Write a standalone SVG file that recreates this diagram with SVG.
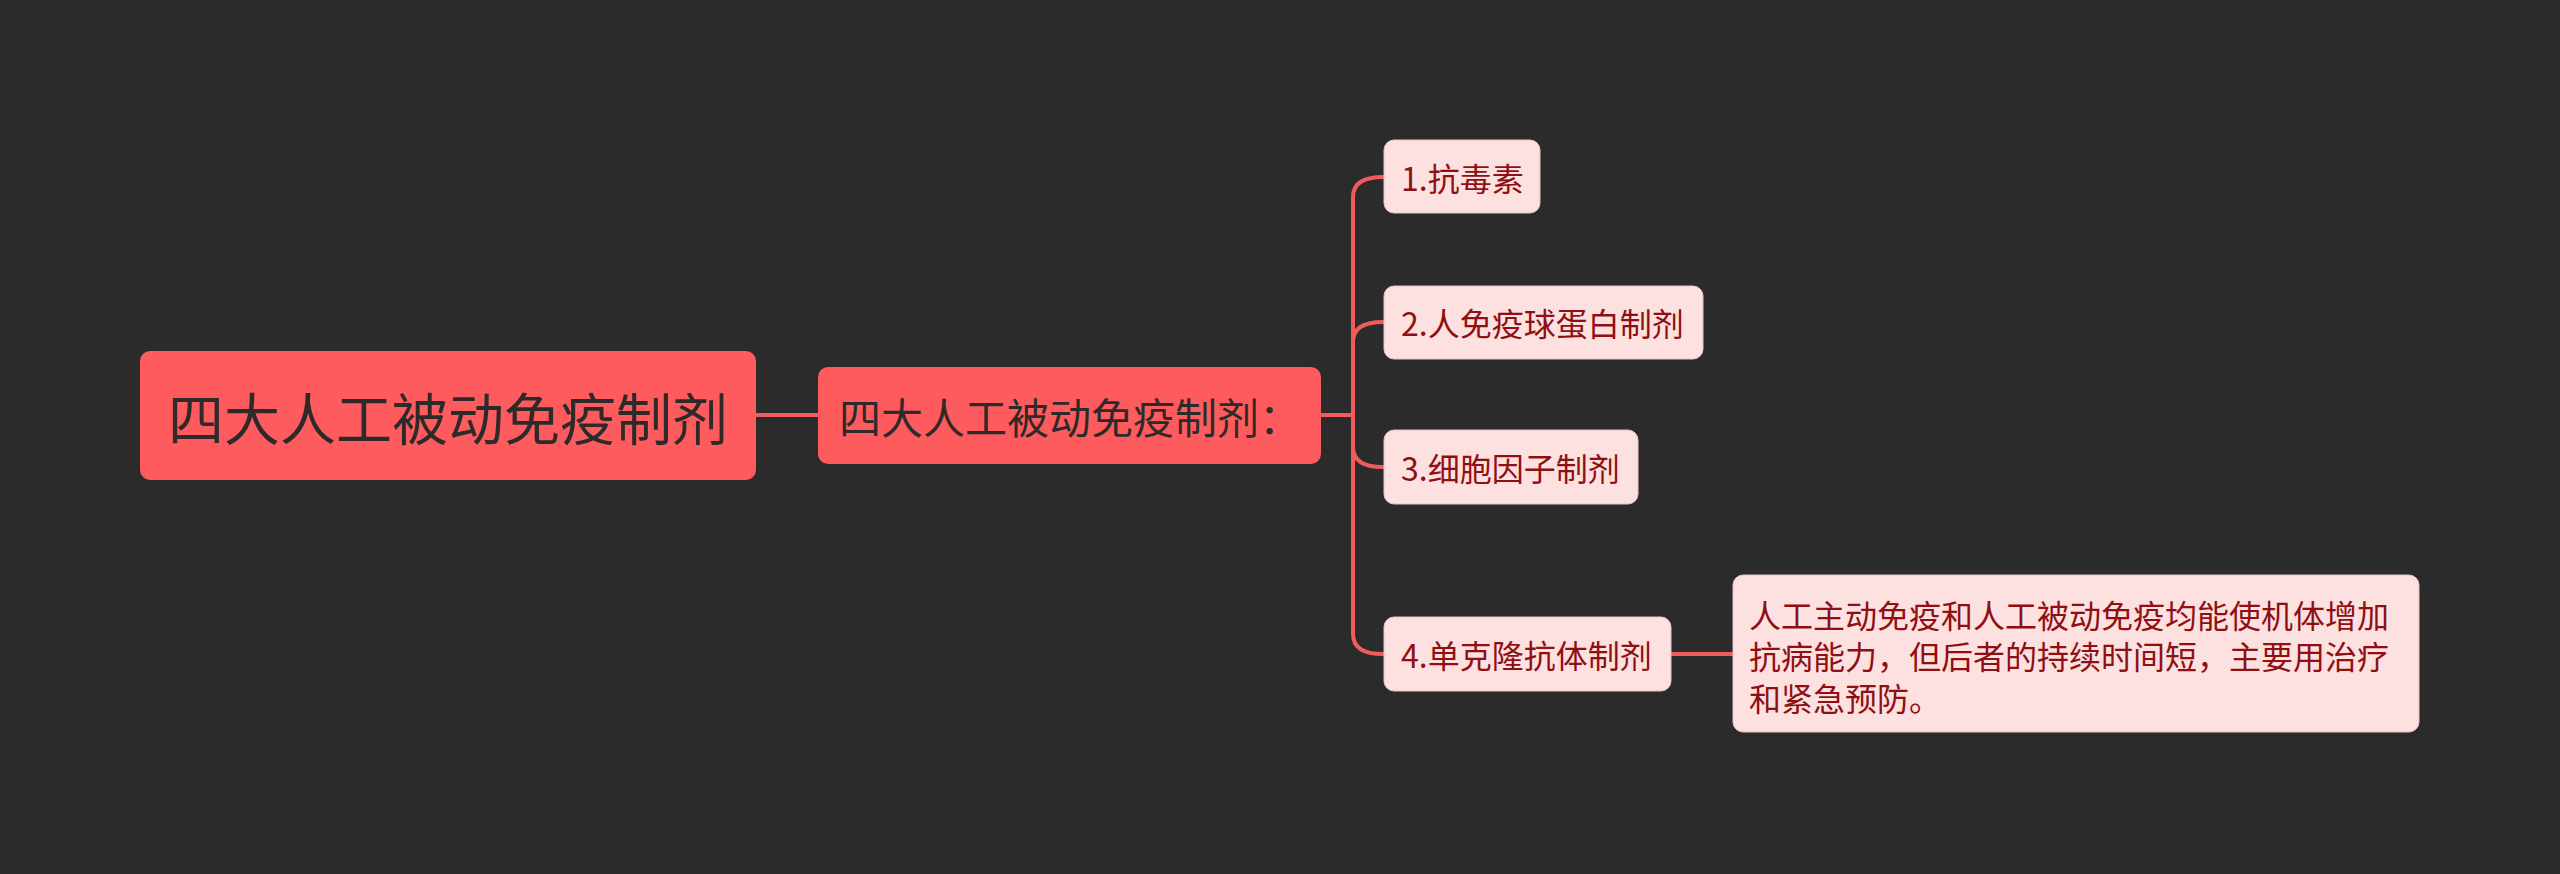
<svg xmlns="http://www.w3.org/2000/svg" width="2560" height="874" viewBox="0 0 2560 874">
<style>
text{font-family:"Noto Sans CJK SC","Noto Sans",sans-serif;dominant-baseline:central}
.root rect{fill:#fd5b5e}
.root text{fill:#2f2a2a;font-size:56px}
.main rect{fill:#fd5b5e}
.main text{fill:#2f2a2a;font-size:42px}
.sub rect{fill:#fde0e0;stroke:#e9c3c3;stroke-width:1}
.sub text{fill:#8f0f12;font-size:32px}
.conn path{fill:none;stroke:#ee5c5e;stroke-width:4;stroke-linecap:round}
</style>
<rect width="2560" height="874" fill="#2b2b2b"/>
<g class="conn" id="connectors">
<path d="M756 415H818"/>
<path d="M1321 415H1353"/>
<path d="M1353 415V197Q1353 177 1383 177"/>
<path d="M1353 415V342Q1353 322 1383 322"/>
<path d="M1353 415V447Q1353 467 1383 467"/>
<path d="M1353 415V634Q1353 654 1383 654"/>
<path d="M1672 654H1733"/>
</g>
<g class="root" id="root">
<rect x="140" y="351" width="616" height="129" rx="10"/>
<text x="448" y="415" text-anchor="middle">四大人工被动免疫制剂</text>
</g>
<g class="main" id="main">
<rect x="818" y="367" width="503" height="97" rx="10"/>
<text x="839" y="415">四大人工被动免疫制剂：</text>
</g>
<g class="sub" id="n1">
<rect x="1384" y="140" width="156" height="73" rx="10"/>
<text x="1401" y="177">1.抗毒素</text>
</g>
<g class="sub" id="n2">
<rect x="1384" y="286" width="319" height="73" rx="10"/>
<text x="1401" y="322">2.人免疫球蛋白制剂</text>
</g>
<g class="sub" id="n3">
<rect x="1384" y="430" width="254" height="74" rx="10"/>
<text x="1401" y="467">3.细胞因子制剂</text>
</g>
<g class="sub" id="n4">
<rect x="1384" y="617" width="287" height="74" rx="10"/>
<text x="1401" y="654">4.单克隆抗体制剂</text>
</g>
<g class="sub" id="n5">
<rect x="1733" y="575" width="686" height="157" rx="10"/>
<text x="1749" y="614">人工主动免疫和人工被动免疫均能使机体增加</text>
<text x="1749" y="655">抗病能力，但后者的持续时间短，主要用治疗</text>
<text x="1749" y="697">和紧急预防。</text>
</g>
</svg>
